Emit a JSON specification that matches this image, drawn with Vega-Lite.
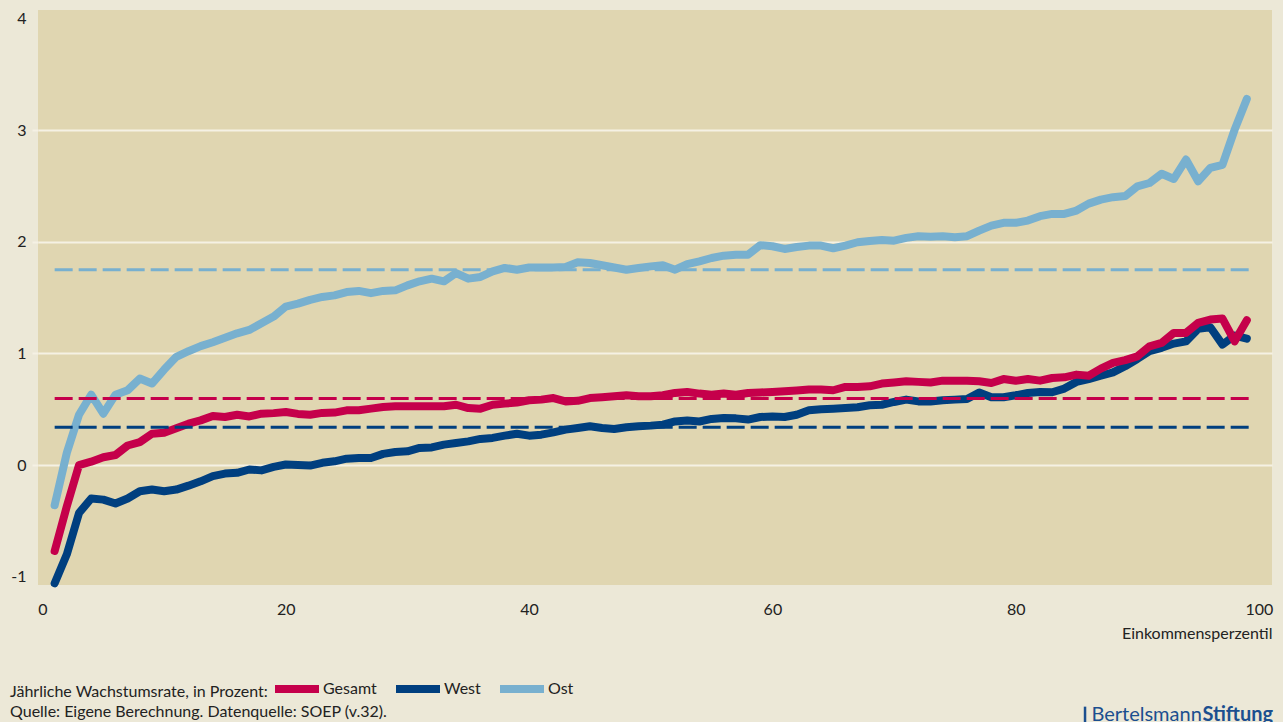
{
  "$schema": "https://vega.github.io/schema/vega-lite/v6.json",
  "width": 1234,
  "height": 575,
  "autosize": {"type": "none"},
  "padding": {"left": 38, "top": 10, "right": 11, "bottom": 137},
  "background": "#ece8d7",
  "config": {
    "view": {"fill": "#e0d6b1", "stroke": null},
    "font": "Lato"
  },
  "datasets": {
    "main": [
      {"p":1,"Gesamt":-0.77,"West":-1.06,"Ost":-0.36},
      {"p":2,"Gesamt":-0.37,"West":-0.8,"Ost":0.11},
      {"p":3,"Gesamt":0.0,"West":-0.43,"Ost":0.45},
      {"p":4,"Gesamt":0.03,"West":-0.3,"Ost":0.63},
      {"p":5,"Gesamt":0.07,"West":-0.31,"Ost":0.46},
      {"p":6,"Gesamt":0.09,"West":-0.345,"Ost":0.63},
      {"p":7,"Gesamt":0.175,"West":-0.3,"Ost":0.67},
      {"p":8,"Gesamt":0.205,"West":-0.235,"Ost":0.775},
      {"p":9,"Gesamt":0.28,"West":-0.22,"Ost":0.73},
      {"p":10,"Gesamt":0.29,"West":-0.235,"Ost":0.855},
      {"p":11,"Gesamt":0.33,"West":-0.22,"Ost":0.97},
      {"p":12,"Gesamt":0.37,"West":-0.185,"Ost":1.02},
      {"p":13,"Gesamt":0.4,"West":-0.146,"Ost":1.065},
      {"p":14,"Gesamt":0.44,"West":-0.1,"Ost":1.1},
      {"p":15,"Gesamt":0.43,"West":-0.077,"Ost":1.14},
      {"p":16,"Gesamt":0.45,"West":-0.07,"Ost":1.18},
      {"p":17,"Gesamt":0.435,"West":-0.04,"Ost":1.21},
      {"p":18,"Gesamt":0.46,"West":-0.048,"Ost":1.27},
      {"p":19,"Gesamt":0.465,"West":-0.017,"Ost":1.33},
      {"p":20,"Gesamt":0.475,"West":0.005,"Ost":1.42},
      {"p":21,"Gesamt":0.458,"West":0.0,"Ost":1.446},
      {"p":22,"Gesamt":0.45,"West":-0.005,"Ost":1.48},
      {"p":23,"Gesamt":0.467,"West":0.02,"Ost":1.506},
      {"p":24,"Gesamt":0.47,"West":0.033,"Ost":1.52},
      {"p":25,"Gesamt":0.49,"West":0.057,"Ost":1.55},
      {"p":26,"Gesamt":0.49,"West":0.063,"Ost":1.56},
      {"p":27,"Gesamt":0.505,"West":0.063,"Ost":1.54},
      {"p":28,"Gesamt":0.52,"West":0.1,"Ost":1.56},
      {"p":29,"Gesamt":0.526,"West":0.117,"Ost":1.565},
      {"p":30,"Gesamt":0.526,"West":0.123,"Ost":1.61},
      {"p":31,"Gesamt":0.526,"West":0.153,"Ost":1.646},
      {"p":32,"Gesamt":0.526,"West":0.158,"Ost":1.67},
      {"p":33,"Gesamt":0.526,"West":0.183,"Ost":1.646},
      {"p":34,"Gesamt":0.54,"West":0.198,"Ost":1.72},
      {"p":35,"Gesamt":0.51,"West":0.212,"Ost":1.67},
      {"p":36,"Gesamt":0.505,"West":0.234,"Ost":1.685},
      {"p":37,"Gesamt":0.54,"West":0.243,"Ost":1.736},
      {"p":38,"Gesamt":0.55,"West":0.263,"Ost":1.766},
      {"p":39,"Gesamt":0.56,"West":0.28,"Ost":1.75},
      {"p":40,"Gesamt":0.58,"West":0.263,"Ost":1.77},
      {"p":41,"Gesamt":0.586,"West":0.272,"Ost":1.77},
      {"p":42,"Gesamt":0.6,"West":0.293,"Ost":1.77},
      {"p":43,"Gesamt":0.57,"West":0.317,"Ost":1.775},
      {"p":44,"Gesamt":0.575,"West":0.332,"Ost":1.816},
      {"p":45,"Gesamt":0.6,"West":0.347,"Ost":1.81},
      {"p":46,"Gesamt":0.607,"West":0.332,"Ost":1.79},
      {"p":47,"Gesamt":0.616,"West":0.323,"Ost":1.77},
      {"p":48,"Gesamt":0.625,"West":0.338,"Ost":1.75},
      {"p":49,"Gesamt":0.616,"West":0.347,"Ost":1.766},
      {"p":50,"Gesamt":0.616,"West":0.353,"Ost":1.78},
      {"p":51,"Gesamt":0.625,"West":0.362,"Ost":1.79},
      {"p":52,"Gesamt":0.646,"West":0.39,"Ost":1.75},
      {"p":53,"Gesamt":0.655,"West":0.398,"Ost":1.8},
      {"p":54,"Gesamt":0.64,"West":0.39,"Ost":1.825},
      {"p":55,"Gesamt":0.63,"West":0.413,"Ost":1.855},
      {"p":56,"Gesamt":0.64,"West":0.422,"Ost":1.876},
      {"p":57,"Gesamt":0.63,"West":0.418,"Ost":1.885},
      {"p":58,"Gesamt":0.646,"West":0.407,"Ost":1.885},
      {"p":59,"Gesamt":0.65,"West":0.43,"Ost":1.97},
      {"p":60,"Gesamt":0.655,"West":0.435,"Ost":1.96},
      {"p":61,"Gesamt":0.66,"West":0.43,"Ost":1.936},
      {"p":62,"Gesamt":0.667,"West":0.45,"Ost":1.954},
      {"p":63,"Gesamt":0.676,"West":0.49,"Ost":1.966},
      {"p":64,"Gesamt":0.676,"West":0.5,"Ost":1.966},
      {"p":65,"Gesamt":0.67,"West":0.505,"Ost":1.942},
      {"p":66,"Gesamt":0.7,"West":0.51,"Ost":1.966},
      {"p":67,"Gesamt":0.7,"West":0.517,"Ost":1.996},
      {"p":68,"Gesamt":0.705,"West":0.535,"Ost":2.008},
      {"p":69,"Gesamt":0.73,"West":0.54,"Ost":2.017},
      {"p":70,"Gesamt":0.74,"West":0.565,"Ost":2.01},
      {"p":71,"Gesamt":0.75,"West":0.586,"Ost":2.035},
      {"p":72,"Gesamt":0.745,"West":0.57,"Ost":2.05},
      {"p":73,"Gesamt":0.74,"West":0.57,"Ost":2.046},
      {"p":74,"Gesamt":0.756,"West":0.58,"Ost":2.05},
      {"p":75,"Gesamt":0.756,"West":0.586,"Ost":2.04},
      {"p":76,"Gesamt":0.756,"West":0.592,"Ost":2.05},
      {"p":77,"Gesamt":0.75,"West":0.65,"Ost":2.1},
      {"p":78,"Gesamt":0.735,"West":0.607,"Ost":2.145},
      {"p":79,"Gesamt":0.77,"West":0.607,"Ost":2.17},
      {"p":80,"Gesamt":0.755,"West":0.625,"Ost":2.17},
      {"p":81,"Gesamt":0.771,"West":0.646,"Ost":2.19},
      {"p":82,"Gesamt":0.756,"West":0.655,"Ost":2.23},
      {"p":83,"Gesamt":0.78,"West":0.652,"Ost":2.25},
      {"p":84,"Gesamt":0.786,"West":0.685,"Ost":2.25},
      {"p":85,"Gesamt":0.81,"West":0.745,"Ost":2.28},
      {"p":86,"Gesamt":0.8,"West":0.77,"Ost":2.342},
      {"p":87,"Gesamt":0.864,"West":0.8,"Ost":2.378},
      {"p":88,"Gesamt":0.915,"West":0.83,"Ost":2.4},
      {"p":89,"Gesamt":0.94,"West":0.885,"Ost":2.41},
      {"p":90,"Gesamt":0.974,"West":0.95,"Ost":2.497},
      {"p":91,"Gesamt":1.064,"West":1.02,"Ost":2.527},
      {"p":92,"Gesamt":1.094,"West":1.05,"Ost":2.61},
      {"p":93,"Gesamt":1.184,"West":1.088,"Ost":2.563},
      {"p":94,"Gesamt":1.184,"West":1.108,"Ost":2.737},
      {"p":95,"Gesamt":1.273,"West":1.22,"Ost":2.542},
      {"p":96,"Gesamt":1.303,"West":1.234,"Ost":2.662},
      {"p":97,"Gesamt":1.312,"West":1.079,"Ost":2.69},
      {"p":98,"Gesamt":1.108,"West":1.16,"Ost":3.005},
      {"p":99,"Gesamt":1.297,"West":1.133,"Ost":3.28}
    ],
    "means": [
      {"Serie":"West","Mittel":0.338},
      {"Serie":"Gesamt","Mittel":0.595},
      {"Serie":"Ost","Mittel":1.75}
    ]
  },
  "layer": [
    {
      "data": {"name": "main"},
      "transform": [{"fold": ["West", "Gesamt", "Ost"], "as": ["Serie", "Wert"]}],
      "mark": {"type": "line", "strokeWidth": 8, "strokeCap": "round", "strokeJoin": "round"},
      "encoding": {
        "x": {
          "field": "p", "type": "quantitative",
          "scale": {"domain": [-0.37, 101.07], "nice": false, "zero": false},
          "axis": {
            "values": [0, 20, 40, 60, 80, 100],
            "title": "Einkommensperzentil",
            "grid": false, "ticks": false, "domain": false,
            "labelPadding": 16, "labelBaseline": "top",
            "labelFontSize": 16, "labelColor": "#222222",
            "titleFontSize": 16, "titleFontWeight": "normal", "titleColor": "#222222",
            "titleAlign": "right", "titleAnchor": "end", "titleX": 1234, "titleY": 40, "titleBaseline": "top"
          }
        },
        "y": {
          "field": "Wert", "type": "quantitative",
          "scale": {"domain": [-1.075, 4.077], "nice": false, "zero": false},
          "axis": {
            "values": [-1, 0, 1, 2, 3, 4],
            "format": "d",
            "labelExpr": "replace(datum.label, '\u2212', '-')",
            "title": null, "domain": false,
            "grid": true, "gridColor": "#f5f1e4", "gridWidth": 2,
            "gridOpacity": {"condition": {"test": "datum.value >= 0 && datum.value <= 3", "value": 1}, "value": 0},
            "ticks": true, "tickSize": 6, "tickWidth": 2, "tickColor": "#f5f1e4",
            "tickOpacity": {"condition": {"test": "datum.value >= 0 && datum.value <= 3", "value": 1}, "value": 0},
            "labelPadding": 6, "labelFontSize": 16, "labelColor": "#222222"
          }
        },
        "color": {
          "field": "Serie", "type": "nominal",
          "scale": {"domain": ["Gesamt", "West", "Ost"], "range": ["#c5004b", "#003f7f", "#78b0cf"]},
          "legend": {
            "title": "Jährliche Wachstumsrate, in Prozent:",
            "orient": "none", "legendX": -28, "legendY": 653,
            "direction": "horizontal", "titleOrient": "left",
            "titleAnchor": "middle", "titleBaseline": "top",
            "titleFontSize": 16, "titleFontWeight": "normal", "titleColor": "#222222",
            "titlePadding": 3, "titleLimit": 400,
            "labelFontSize": 16, "labelColor": "#222222", "labelOffset": 0,
            "symbolType": "stroke", "symbolStrokeWidth": 8, "symbolSize": 1936,
            "columnPadding": 3
          }
        }
      }
    },
    {
      "data": {"name": "means"},
      "mark": {"type": "rule", "strokeWidth": 3, "strokeDash": [18, 6]},
      "encoding": {
        "x": {"datum": 1},
        "x2": {"datum": 99.3},
        "y": {"field": "Mittel", "type": "quantitative"},
        "stroke": {
          "field": "Serie", "type": "nominal",
          "scale": {"domain": ["Gesamt", "West", "Ost"], "range": ["#c5004b", "#003f7f", "#78b0cf"]},
          "legend": null
        }
      }
    },
    {
      "data": {"values": [{"Teil": "Quelle: Eigene Berechnung. Datenquelle: SOEP (v.32)."}]},
      "mark": {"type": "text", "align": "left", "baseline": "alphabetic", "fontSize": 16, "fontWeight": "normal", "color": "#222222"},
      "encoding": {
        "x": {"datum": -2.67},
        "y": {"datum": -2.262},
        "text": {"field": "Teil"}
      }
    },
    {
      "data": {"values": [{"Teil": "Bertelsmann"}]},
      "mark": {"type": "text", "align": "right", "baseline": "alphabetic", "fontSize": 20, "fontWeight": "normal", "color": "#1b4f8f"},
      "encoding": {
        "x": {"datum": 95.3},
        "y": {"datum": -2.29},
        "text": {"field": "Teil"}
      }
    },
    {
      "data": {"values": [{"Teil": "Stiftung"}]},
      "mark": {"type": "text", "align": "left", "baseline": "alphabetic", "fontSize": 20, "fontWeight": "bold", "color": "#1b4f8f"},
      "encoding": {
        "x": {"datum": 95.35},
        "y": {"datum": -2.29},
        "text": {"field": "Teil"}
      }
    },
    {
      "data": {"values": [{"Teil": "Logo"}]},
      "mark": {"type": "rule", "strokeWidth": 2.5, "color": "#1b4f8f"},
      "encoding": {
        "x": {"datum": 85.7},
        "y": {"datum": -2.165},
        "y2": {"datum": -2.32}
      }
    }
  ]
}
